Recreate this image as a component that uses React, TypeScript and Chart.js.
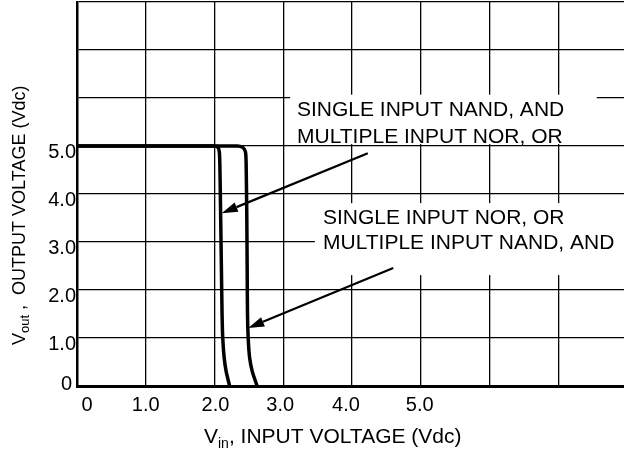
import React, { useEffect, useRef } from 'react';
import { Chart, registerables } from 'chart.js';

Chart.register(...registerables);

// ---- data ----
const curve1Vin = [0, 2.0, 2.05, 2.07, 2.078, 2.09, 2.1, 2.11, 2.12, 2.14, 2.17, 2.22];
const curve1Vout = [5, 5, 4.97, 4.88, 4.6, 3.5, 2.5, 1.5, 1.0, 0.6, 0.3, 0];
const curve2Vin = [0, 2.33, 2.41, 2.45, 2.46, 2.47, 2.475, 2.48, 2.49, 2.51, 2.55, 2.62];
const curve2Vout = [5, 5, 4.97, 4.88, 4.65, 3.5, 2.5, 1.5, 1.0, 0.6, 0.3, 0];

const xTickValues = [0, 1, 2, 3, 4, 5];
const xTickLabels = ['0', '1.0', '2.0', '3.0', '4.0', '5.0'];
const yTickValues = [0, 1, 2, 3, 4, 5];
const yTickLabels = ['0', '1.0', '2.0', '3.0', '4.0', '5.0'];

const label1Lines = ['SINGLE INPUT NAND, AND', 'MULTIPLE INPUT NOR, OR'];
const label2Lines = ['SINGLE INPUT NOR, OR', 'MULTIPLE INPUT NAND, AND'];

// annotation anchors (data units)
const arrow1 = { from: [4.23, 4.85], to: [2.105, 3.6] };
const arrow2 = { from: [4.6, 2.46], to: [2.49, 1.21] };
const box1 = { x0: 3.1, x1: 7.56, y0: 5.04, y1: 6.07 };
const box2 = { x0: 3.46, x1: 8.2, y0: 2.31, y1: 3.81 };
const text1 = { x: 3.2, y: [5.625, 5.07] };
const text2 = { x: 3.578, y: [3.385, 2.854] };

// ---- styles ----
const FONT = '"Liberation Sans", Arial, Helvetica, sans-serif';
const xLabelNudge = [10, 0, 1, -3, -6, -1];

function toPts(xs: number[], ys: number[]) {
  return xs.map((x, i) => ({ x, y: ys[i] }));
}

export default function App() {
  const ref = useRef<HTMLCanvasElement>(null);

  useEffect(() => {
    const canvas = ref.current!;
    const overlay = {
      id: 'overlay',
      beforeDatasetsDraw(chart: any) {
        const { ctx, scales } = chart;
        const sx = scales.x, sy = scales.y;
        ctx.save();
        ctx.fillStyle = '#fff';
        for (const b of [box1, box2]) {
          const px0 = sx.getPixelForValue(b.x0);
          const px1 = sx.getPixelForValue(b.x1);
          const py0 = sy.getPixelForValue(b.y1);
          const py1 = sy.getPixelForValue(b.y0);
          ctx.fillRect(px0, py0, px1 - px0, py1 - py0);
        }
        ctx.restore();
      },
      afterDraw(chart: any) {
        const { ctx, scales } = chart;
        const sx = scales.x, sy = scales.y;
        ctx.save();
        ctx.fillStyle = '#000';
        ctx.strokeStyle = '#000';

        // arrows
        for (const a of [arrow1, arrow2]) {
          const x0 = sx.getPixelForValue(a.from[0]);
          const y0 = sy.getPixelForValue(a.from[1]);
          const x1 = sx.getPixelForValue(a.to[0]);
          const y1 = sy.getPixelForValue(a.to[1]);
          const ang = Math.atan2(y1 - y0, x1 - x0);
          const len = 16, hw = 5;
          const bx = x1 - len * Math.cos(ang);
          const by = y1 - len * Math.sin(ang);
          ctx.lineWidth = 2.2;
          ctx.beginPath();
          ctx.moveTo(x0, y0);
          ctx.lineTo(bx, by);
          ctx.stroke();
          ctx.beginPath();
          ctx.moveTo(x1, y1);
          ctx.lineTo(bx + hw * Math.sin(ang), by - hw * Math.cos(ang));
          ctx.lineTo(bx - hw * Math.sin(ang), by + hw * Math.cos(ang));
          ctx.closePath();
          ctx.fill();
        }

        // annotation text
        ctx.font = `21px ${FONT}`;
        ctx.textAlign = 'left';
        ctx.textBaseline = 'alphabetic';
        label1Lines.forEach((t, i) => {
          ctx.fillText(t, sx.getPixelForValue(text1.x), sy.getPixelForValue(text1.y[i]));
        });
        label2Lines.forEach((t, i) => {
          ctx.fillText(t, sx.getPixelForValue(text2.x), sy.getPixelForValue(text2.y[i]));
        });

        // x tick labels
        ctx.font = `20px ${FONT}`;
        ctx.textAlign = 'center';
        const xBase = sy.getPixelForValue(0) + 25;
        xTickValues.forEach((v, i) => {
          ctx.fillText(xTickLabels[i], sx.getPixelForValue(v) + xLabelNudge[i], xBase);
        });

        // y tick labels
        ctx.textAlign = 'right';
        const yRight = sx.getPixelForValue(0) - 1;
        yTickValues.forEach((v, i) => {
          const py = sy.getPixelForValue(v);
          if (v === 0) ctx.fillText(yTickLabels[i], yRight - 4, py + 4);
          else ctx.fillText(yTickLabels[i], yRight, py + 11.5);
        });

        // x axis title
        ctx.textAlign = 'left';
        let tx = 204;
        const tb = 443;
        ctx.font = `21px ${FONT}`;
        ctx.fillText('V', tx, tb);
        tx += ctx.measureText('V').width;
        ctx.font = `14px ${FONT}`;
        ctx.fillText('in', tx, tb + 5);
        tx += ctx.measureText('in').width;
        ctx.font = `21px ${FONT}`;
        ctx.fillText(', INPUT VOLTAGE (Vdc)', tx, tb);

        // y axis title
        ctx.save();
        ctx.translate(25, 345);
        ctx.rotate(-Math.PI / 2);
        let ty = 0;
        ctx.font = `18px ${FONT}`;
        ctx.fillText('V', ty, 0);
        ty += ctx.measureText('V').width;
        ctx.font = `13px ${FONT}`;
        ctx.fillText('out', ty, 4);
        ty += ctx.measureText('out').width;
        ctx.font = `18px ${FONT}`;
        ctx.fillText(' ,  OUTPUT VOLTAGE (Vdc)', ty, 0);
        ctx.restore();

        ctx.restore();
      },
    };

    const gridStyle = { color: '#000', lineWidth: 1.3, drawTicks: false };

    const chart = new Chart(canvas, {
      type: 'scatter',
      data: {
        datasets: [
          {
            data: toPts(curve1Vin, curve1Vout),
            showLine: true,
            borderColor: '#000',
            borderWidth: 3.5,
            pointRadius: 0,
            tension: 0.2,
            fill: false,
          },
          {
            data: toPts(curve2Vin, curve2Vout),
            showLine: true,
            borderColor: '#000',
            borderWidth: 3.5,
            pointRadius: 0,
            tension: 0.2,
            fill: false,
          },
        ],
      },
      options: {
        responsive: false,
        animation: false,
        devicePixelRatio: 1,
        layout: { padding: { top: 2, right: 3, left: 0, bottom: 0 } },
        plugins: { legend: { display: false }, tooltip: { enabled: false } },
        scales: {
          x: {
            type: 'linear',
            min: 0,
            max: 8,
            ticks: { display: false, stepSize: 1 },
            grid: gridStyle,
            border: { color: '#000', width: 3 },
            afterFit: (s: any) => { s.height = 66; },
          },
          y: {
            type: 'linear',
            min: 0,
            max: 8,
            ticks: { display: false, stepSize: 1 },
            grid: gridStyle,
            border: { color: '#000', width: 2.5 },
            afterFit: (s: any) => { s.width = 77; },
          },
        },
      },
      plugins: [overlay],
    } as any);

    return () => chart.destroy();
  }, []);

  return (
    <div style={{ position: 'absolute', left: 0, top: 0, width: 624, height: 452, overflow: 'hidden', background: '#fff' }}>
      <canvas ref={ref} width={630} height={452} style={{ display: 'block', width: 630, height: 452 }} />
    </div>
  );
}
